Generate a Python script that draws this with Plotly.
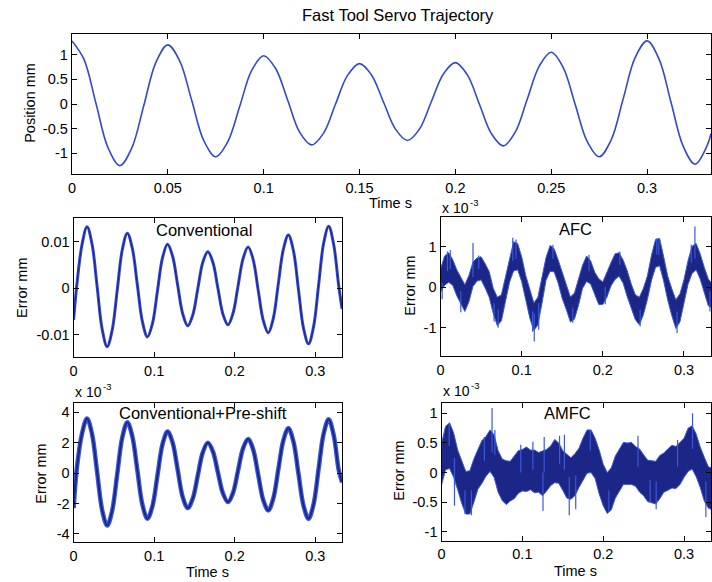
import plotly.graph_objects as go

# ---------------- data ----------------
traj_t = [0, 0.00625, 0.0125, 0.01875, 0.025, 0.03125, 0.0375, 0.04375, 0.05, 0.05625,
          0.0625, 0.06875, 0.075, 0.08125, 0.0875, 0.09375, 0.1, 0.10625, 0.1125, 0.11875,
          0.125, 0.13125, 0.1375, 0.14375, 0.15, 0.15625, 0.1625, 0.16875, 0.175, 0.18125,
          0.1875, 0.19375, 0.2, 0.20625, 0.2125, 0.21875, 0.225, 0.23125, 0.2375, 0.24375,
          0.25, 0.25625, 0.2625, 0.26875, 0.275, 0.28125, 0.2875, 0.29375, 0.3, 0.30625,
          0.3125, 0.31875, 0.325, 0.33125, 0.33333]
traj_pos = [1.28, 0.91, 0.02, -0.88, -1.25, -0.89, -0.03, 0.84, 1.2, 0.87,
            0.07, -0.74, -1.07, -0.77, -0.05, 0.68, 0.98, 0.72, 0.08, -0.57,
            -0.83, -0.59, 0.0, 0.58, 0.82, 0.59, 0.04, -0.51, -0.74, -0.51,
            0.05, 0.61, 0.84, 0.59, 0.0, -0.60, -0.85, -0.57, 0.1, 0.77,
            1.05, 0.74, -0.01, -0.76, -1.07, -0.73, 0.1, 0.94, 1.28, 0.91,
            0.03, -0.85, -1.22, -0.85, -0.6]

err_t = [0, 0.00417, 0.01042, 0.01667, 0.02292, 0.02917, 0.03542, 0.04167, 0.04792, 0.05417,
         0.06042, 0.06667, 0.07292, 0.07917, 0.08542, 0.09167, 0.09792, 0.10417, 0.11042, 0.11667,
         0.12292, 0.12917, 0.13542, 0.14167, 0.14792, 0.15417, 0.16042, 0.16667, 0.17292, 0.17917,
         0.18542, 0.19167, 0.19792, 0.20417, 0.21042, 0.21667, 0.22292, 0.22917, 0.23542, 0.24167,
         0.24792, 0.25417, 0.26042, 0.26667, 0.27292, 0.27917, 0.28542, 0.29167, 0.29792, 0.30417,
         0.31042, 0.31667, 0.32292, 0.32917, 0.33333]
conv_err = [-0.0068, 0.001, 0.0094, 0.0133, 0.0095, 0.0004, -0.0088, -0.0126, -0.0090, -0.0004,
            0.0083, 0.0119, 0.0086, 0.0007, -0.0072, -0.0105, -0.0076, -0.0005, 0.0066, 0.0095,
            0.0069, 0.0007, -0.0055, -0.0081, -0.0058, -0.0001, 0.0056, 0.0079, 0.0056, 0.0,
            -0.0056, -0.0079, -0.0054, 0.0005, 0.0064, 0.0089, 0.0062, -0.0004, -0.0069, -0.0096,
            -0.0065, 0.0010, 0.0084, 0.0115, 0.0081, -0.0003, -0.0086, -0.0120, -0.0083, 0.0007,
            0.0097, 0.0134, 0.0094, 0.0005, -0.0045]
preshift_err = [-2.3, 0.4, 2.6, 3.6, 2.57, 0.08, -2.42, -3.45, -2.45, -0.05,
                2.35, 3.35, 2.42, 0.18, -2.07, -3.0, -2.16, -0.13, 1.91, 2.75,
                2.01, 0.23, -1.56, -2.3, -1.67, -0.15, 1.37, 2.0, 1.43, 0.05,
                -1.33, -1.9, -1.29, 0.18, 1.64, 2.25, 1.56, -0.1, -1.76, -2.45,
                -1.66, 0.25, 2.16, 2.95, 2.08, -0.03, -2.13, -3.0, -2.04, 0.28,
                2.59, 3.55, 2.5, 0.2, -0.6]

noise_t = [0.000, 0.005, 0.010, 0.015, 0.020, 0.025, 0.030, 0.035, 0.040, 0.045,
           0.050, 0.055, 0.060, 0.065, 0.070, 0.075, 0.080, 0.085, 0.090, 0.095,
           0.100, 0.105, 0.110, 0.115, 0.120, 0.125, 0.130, 0.135, 0.140, 0.145,
           0.150, 0.155, 0.160, 0.165, 0.170, 0.175, 0.180, 0.185, 0.190, 0.195,
           0.200, 0.205, 0.210, 0.215, 0.220, 0.225, 0.230, 0.235, 0.240, 0.245,
           0.250, 0.255, 0.260, 0.265, 0.270, 0.275, 0.280, 0.285, 0.290, 0.295,
           0.300, 0.305, 0.310, 0.315, 0.320, 0.325, 0.330, 0.335]

# AFC error band (x 1e-3 mm): centre, spread above, spread below
afc_mid = [0.15, 0.35, 0.45, 0.35, 0.15, -0.05, -0.2, -0.05, 0.3, 0.45,
           0.45, 0.3, 0.05, -0.3, -0.55, -0.45, -0.05, 0.4, 0.7, 0.7,
           0.45, 0.0, -0.4, -0.65, -0.55, -0.1, 0.45, 0.7, 0.65, 0.4,
           0.05, -0.25, -0.5, -0.45, -0.15, 0.25, 0.45, 0.35, 0.1, -0.1,
           -0.15, 0.05, 0.3, 0.5, 0.55, 0.4, 0.1, -0.2, -0.45, -0.55,
           -0.35, 0.0, 0.45, 0.8, 0.8, 0.45, 0.0, -0.35, -0.6, -0.5,
           -0.1, 0.35, 0.65, 0.7, 0.5, 0.2, -0.1, -0.2]
afc_up = [0.30, 0.42, 0.40, 0.33, 0.28, 0.30, 0.26, 0.34, 0.32, 0.27,
          0.30, 0.28, 0.33, 0.27, 0.30, 0.26, 0.31, 0.34, 0.42, 0.38,
          0.30, 0.29, 0.32, 0.26, 0.30, 0.33, 0.28, 0.33, 0.30, 0.27,
          0.31, 0.28, 0.26, 0.30, 0.33, 0.29, 0.32, 0.30, 0.27, 0.31,
          0.28, 0.33, 0.30, 0.32, 0.30, 0.27, 0.31, 0.28, 0.26, 0.30,
          0.32, 0.28, 0.34, 0.38, 0.40, 0.30, 0.27, 0.31, 0.29, 0.33,
          0.28, 0.30, 0.36, 0.38, 0.32, 0.29, 0.30, 0.28]
afc_dn = [0.28, 0.30, 0.33, 0.30, 0.36, 0.34, 0.40, 0.31, 0.28, 0.30,
          0.27, 0.32, 0.30, 0.35, 0.40, 0.38, 0.31, 0.28, 0.30, 0.27,
          0.31, 0.33, 0.36, 0.42, 0.38, 0.30, 0.28, 0.31, 0.27, 0.30,
          0.33, 0.30, 0.36, 0.34, 0.30, 0.28, 0.31, 0.27, 0.30, 0.33,
          0.28, 0.30, 0.27, 0.31, 0.28, 0.30, 0.33, 0.30, 0.35, 0.38,
          0.33, 0.30, 0.28, 0.31, 0.27, 0.30, 0.32, 0.35, 0.42, 0.36,
          0.30, 0.28, 0.31, 0.27, 0.30, 0.33, 0.36, 0.32]
afc_spike_t = [0.002, 0.0085, 0.012, 0.025, 0.040, 0.047, 0.066, 0.071, 0.089, 0.093,
               0.1135, 0.1155, 0.121, 0.1385, 0.163, 0.183, 0.203, 0.221, 0.246, 0.2665,
               0.269, 0.2915, 0.309, 0.3135, 0.332]
afc_spike_base = [0.1, 0.4, 0.45, -0.1, 0.25, 0.45, -0.4, -0.55, 0.65, 0.7,
                  -0.6, -0.65, -0.4, 0.7, -0.5, 0.4, 0.0, 0.55, -0.55, 0.8,
                  0.8, -0.6, 0.6, 0.7, -0.1]
afc_spike_tip = [-0.3, 0.88, 0.92, -0.62, 1.09, 0.78, -0.85, -1.0, 1.22, 1.18,
                 -1.1, -1.34, -1.05, 1.05, -0.88, 0.8, -0.42, 0.88, -0.97, 1.2,
                 1.15, -1.13, 1.05, 1.5, -0.6]

# AMFC error band (x 1e-3 mm)
amfc_mid = [0.15, 0.38, 0.42, 0.3, 0.05, -0.15, -0.3, -0.32, -0.15, 0.05,
            0.18, 0.28, 0.34, 0.28, 0.05, -0.12, -0.17, -0.14, -0.08, -0.02,
            0.04, 0.06, 0.05, 0.02, 0.0, -0.02, 0.04, 0.12, 0.19, 0.15,
            0.05, -0.05, -0.09, -0.05, 0.08, 0.22, 0.33, 0.37, 0.25, 0.02,
            -0.2, -0.32, -0.28, -0.1, 0.05, 0.14, 0.17, 0.15, 0.1, 0.03,
            -0.05, -0.12, -0.16, -0.15, -0.08, 0.0, 0.05, 0.08, 0.1, 0.15,
            0.25, 0.38, 0.4, 0.3, 0.1, -0.1, -0.24, -0.28]
amfc_up = [0.34, 0.40, 0.42, 0.37, 0.33, 0.36, 0.32, 0.35, 0.38, 0.34,
           0.36, 0.33, 0.38, 0.36, 0.32, 0.35, 0.37, 0.33, 0.36, 0.39,
           0.35, 0.37, 0.33, 0.36, 0.34, 0.38, 0.35, 0.33, 0.37, 0.35,
           0.32, 0.36, 0.34, 0.37, 0.33, 0.36, 0.39, 0.35, 0.33, 0.36,
           0.34, 0.32, 0.36, 0.38, 0.35, 0.37, 0.33, 0.36, 0.34, 0.37,
           0.35, 0.33, 0.36, 0.34, 0.37, 0.33, 0.35, 0.38, 0.34, 0.36,
           0.33, 0.37, 0.39, 0.35, 0.33, 0.36, 0.34, 0.35]
amfc_dn = [0.36, 0.33, 0.35, 0.38, 0.34, 0.37, 0.40, 0.38, 0.35, 0.33,
           0.36, 0.34, 0.32, 0.36, 0.38, 0.35, 0.37, 0.34, 0.36, 0.33,
           0.35, 0.38, 0.34, 0.36, 0.33, 0.37, 0.35, 0.34, 0.36, 0.33,
           0.35, 0.38, 0.36, 0.34, 0.33, 0.36, 0.34, 0.37, 0.35, 0.38,
           0.36, 0.37, 0.35, 0.33, 0.36, 0.34, 0.37, 0.35, 0.33, 0.36,
           0.34, 0.37, 0.35, 0.38, 0.36, 0.33, 0.35, 0.34, 0.37, 0.35,
           0.33, 0.36, 0.34, 0.37, 0.35, 0.38, 0.36, 0.35]
amfc_spike_t = [0.0095, 0.016, 0.029, 0.037, 0.053, 0.0625, 0.066, 0.098, 0.113, 0.1255,
                0.127, 0.146, 0.152, 0.158, 0.166, 0.184, 0.207, 0.243, 0.258, 0.2655,
                0.292, 0.3105, 0.327]
amfc_spike_base = [0.45, 0.25, -0.3, -0.3, 0.2, 0.34, 0.3, 0.0, 0.05, 0.0,
                   0.0, 0.15, 0.05, -0.08, -0.05, 0.37, -0.3, 0.1, -0.12, -0.15,
                   0.1, 0.4, -0.15]
amfc_spike_tip = [0.82, -0.56, -0.7, -0.72, 0.6, 1.09, 0.72, 0.47, 0.52, -0.65,
                  0.6, 0.62, 0.64, -0.72, -0.62, 0.72, -0.66, 0.62, -0.5, -0.62,
                  0.55, 1.0, -0.75]

# tick values / labels
top_xticks = [0, 0.05, 0.1, 0.15, 0.2, 0.25, 0.3]
top_xlabels = ["0", "0.05", "0.1", "0.15", "0.2", "0.25", "0.3"]
top_yticks = [-1, -0.5, 0, 0.5, 1]
top_ylabels = ["-1", "-0.5", "0", "0.5", "1"]
low_xticks = [0, 0.1, 0.2, 0.3]
low_xlabels = ["0", "0.1", "0.2", "0.3"]
conv_yticks = [-0.01, 0, 0.01]
conv_ylabels = ["-0.01", "0", "0.01"]
afc_yticks = [-1, 0, 1]
afc_ylabels = ["-1", "0", "1"]
pre_yticks = [-4, -2, 0, 2, 4]
pre_ylabels = ["-4", "-2", "0", "2", "4"]
amfc_yticks = [-1, -0.5, 0, 0.5, 1]
amfc_ylabels = ["-1", "-0.5", "0", "0.5", "1"]

# ---------------- styling ----------------
W, H = 712, 582
FONT = "Liberation Sans, Arial, Helvetica, sans-serif"
BLUE = "rgb(52,72,205)"
NAVY = "rgb(28,38,135)"
EDGE = "rgb(58,88,215)"


def fx(p):
    return p / W


def fy(p):
    return 1 - p / H


fig = go.Figure()

fig.add_trace(go.Scatter(x=traj_t, y=traj_pos, mode="lines",
                         line=dict(color=BLUE, width=1.6, shape="spline"),
                         xaxis="x", yaxis="y", hoverinfo="skip"))

fig.add_trace(go.Scatter(x=err_t, y=conv_err, mode="lines",
                         line=dict(color=BLUE, width=3, shape="spline"),
                         xaxis="x2", yaxis="y2", hoverinfo="skip"))
fig.add_trace(go.Scatter(x=err_t, y=conv_err, mode="lines",
                         line=dict(color=NAVY, width=1, shape="spline"),
                         xaxis="x2", yaxis="y2", hoverinfo="skip"))

fig.add_trace(go.Scatter(x=err_t, y=preshift_err, mode="lines",
                         line=dict(color=EDGE, width=4.5, shape="spline"),
                         xaxis="x4", yaxis="y4", hoverinfo="skip"))
fig.add_trace(go.Scatter(x=err_t, y=preshift_err, mode="lines",
                         line=dict(color=NAVY, width=2, shape="spline"),
                         xaxis="x4", yaxis="y4", hoverinfo="skip"))


def band(t, mid, up, dn, st, sb, stip, xa, ya):
    upper = [m + u for m, u in zip(mid, up)]
    lower = [m - d for m, d in zip(mid, dn)]
    fig.add_trace(go.Scatter(x=t, y=upper, mode="lines",
                             line=dict(color=EDGE, width=1),
                             xaxis=xa, yaxis=ya, hoverinfo="skip"))
    fig.add_trace(go.Scatter(x=t, y=lower, mode="lines",
                             line=dict(color=EDGE, width=1),
                             fill="tonexty", fillcolor=NAVY,
                             xaxis=xa, yaxis=ya, hoverinfo="skip"))
    sx, sy = [], []
    for a, b, c in zip(st, sb, stip):
        sx += [a, a, None]
        sy += [b, c, None]
    fig.add_trace(go.Scatter(x=sx, y=sy, mode="lines",
                             line=dict(color=EDGE, width=1.2),
                             xaxis=xa, yaxis=ya, hoverinfo="skip"))


band(noise_t, afc_mid, afc_up, afc_dn, afc_spike_t, afc_spike_base, afc_spike_tip, "x3", "y3")
band(noise_t, amfc_mid, amfc_up, amfc_dn, amfc_spike_t, amfc_spike_base, amfc_spike_tip, "x5", "y5")

TICK = 14.5


def ax(domain, rng, vals, labels, anchor):
    return dict(domain=domain, range=rng, tickvals=vals, ticktext=labels,
                anchor=anchor, showline=True, linecolor="black", linewidth=1.3,
                mirror="ticks", ticks="inside", ticklen=5, tickwidth=1.2,
                tickcolor="black", showgrid=False, zeroline=False,
                tickfont=dict(family=FONT, size=TICK, color="black"))


XMAX = 0.33333
fig.update_layout(
    width=W, height=H,
    margin=dict(l=0, r=0, t=0, b=0),
    paper_bgcolor="white", plot_bgcolor="white",
    showlegend=False,
    font=dict(family=FONT, size=14, color="black"),
    xaxis=ax([fx(68.3), fx(711)], [0, XMAX], top_xticks, top_xlabels, "y"),
    yaxis=ax([fy(174), fy(34)], [-1.42, 1.42], top_yticks, top_ylabels, "x"),
    xaxis2=ax([fx(70), fx(340)], [0, XMAX], low_xticks, low_xlabels, "y2"),
    yaxis2=ax([fy(357.3), fy(218.3)], [-0.0149, 0.0151], conv_yticks, conv_ylabels, "x2"),
    xaxis3=ax([fx(439), fx(711)], [0, XMAX], low_xticks, low_xlabels, "y3"),
    yaxis3=ax([fy(356), fy(216.7)], [-1.70, 1.74], afc_yticks, afc_ylabels, "x3"),
    xaxis4=ax([fx(70), fx(340)], [0, XMAX], low_xticks, low_xlabels, "y4"),
    yaxis4=ax([fy(542.3), fy(403.3)], [-4.55, 4.6], pre_yticks, pre_ylabels, "x4"),
    xaxis5=ax([fx(440), fx(711)], [0, XMAX], low_xticks, low_xlabels, "y5"),
    yaxis5=ax([fy(540.7), fy(402.7)], [-1.15, 1.18], amfc_yticks, amfc_ylabels, "x5"),
)


def text(s, x, y, size=14.5, angle=0, xanchor="center"):
    fig.add_annotation(text=s, x=fx(x), y=fy(y), xref="paper", yref="paper",
                       showarrow=False, textangle=angle, xanchor=xanchor,
                       yanchor="middle", font=dict(family=FONT, size=size, color="black"))


def exponent(x, y):
    text("x 10", x, y, size=14, xanchor="left")
    text("-3", x + 29, y - 6, size=9.5, xanchor="left")


text("Fast Tool Servo Trajectory", 396, 15, size=16.5)
text("Time s", 389, 203)
text("Position mm", 26, 103, angle=-90)

text("Conventional", 201, 230, size=16.5)
text("Error mm", 18, 288, angle=-90)

text("AFC", 575, 229, size=16.5)
text("Error mm", 408, 286, angle=-90)
exponent(438, 208)

text("Conventional+Pre-shift", 200, 413, size=16.5)
text("Error mm", 37, 474, angle=-90)
exponent(69, 392)
text("Time s", 205, 572)

text("AMFC", 567, 413, size=16.5)
text("Error mm", 397, 471, angle=-90)
exponent(439, 391)
text("Time s", 575, 571)

fig.write_html("out.html",
               config={"displayModeBar": False},
               post_script="document.body.style.margin='0px';"
                           "document.body.style.overflow='hidden';")
